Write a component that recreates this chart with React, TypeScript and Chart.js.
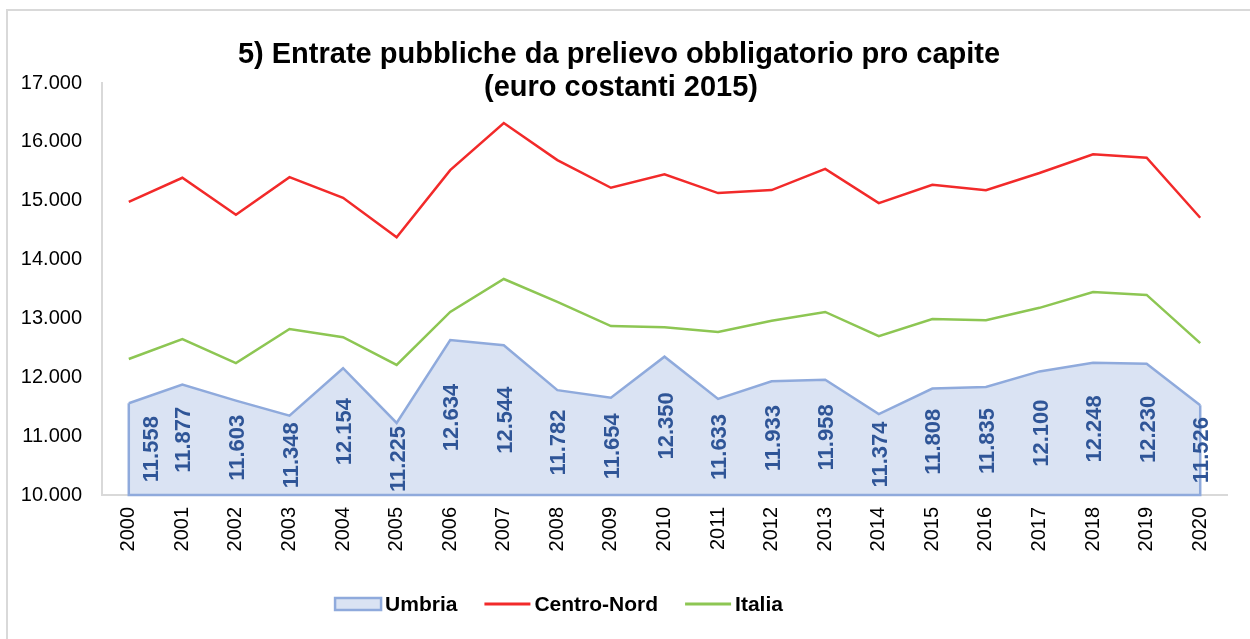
import React, { useEffect, useRef } from "react";
import { Chart, registerables } from "chart.js";

Chart.register(...registerables);

const years = ["2000","2001","2002","2003","2004","2005","2006","2007","2008","2009","2010","2011","2012","2013","2014","2015","2016","2017","2018","2019","2020"];
const umbria = [11558, 11877, 11603, 11348, 12154, 11225, 12634, 12544, 11782, 11654, 12350, 11633, 11933, 11958, 11374, 11808, 11835, 12100, 12248, 12230, 11526];
const centroNord = [14980, 15390, 14760, 15400, 15050, 14380, 15520, 16320, 15690, 15220, 15450, 15130, 15180, 15540, 14960, 15270, 15180, 15470, 15790, 15730, 14710];
const italia = [12310, 12650, 12240, 12820, 12680, 12210, 13110, 13670, 13280, 12870, 12850, 12770, 12960, 13110, 12700, 12990, 12970, 13180, 13450, 13400, 12580];
const titleLines = ["5) Entrate pubbliche da prelievo obbligatorio pro capite", "(euro costanti 2015)"];
const seriesNames = ["Umbria", "Centro-Nord", "Italia"];

const FONT = "'Liberation Sans', Arial, sans-serif";
const UMB_FILL = "#DAE3F3";
const UMB_LINE = "#8FAADC";
const UMB_TEXT = "#2F5597";
const RED = "#F22A2A";
const GREEN = "#8DC653";

const fmt = (v: number) => {
  const s = Math.round(v).toString();
  return s.replace(/\B(?=(\d{3})+(?!\d))/g, ".");
};

const customPlugin = {
  id: "custom",
  beforeDraw(chart: any) {
    const ctx = chart.ctx;
    ctx.save();
    ctx.fillStyle = "#ffffff";
    ctx.fillRect(0, 0, chart.width, chart.height);
    ctx.strokeStyle = "#D9D9D9";
    ctx.lineWidth = 2;
    ctx.beginPath();
    ctx.moveTo(7, chart.height);
    ctx.lineTo(7, 10);
    ctx.lineTo(chart.width, 10);
    ctx.stroke();
    ctx.restore();
  },
  afterDatasetsDraw(chart: any) {
    const ctx = chart.ctx;
    const meta = chart.getDatasetMeta(0);
    const base = chart.scales.y.getPixelForValue(chart.scales.y.min);
    const pts = meta.data;
    ctx.save();
    ctx.strokeStyle = UMB_LINE;
    ctx.lineWidth = 2.5;
    ctx.beginPath();
    ctx.moveTo(pts[0].x, pts[0].y);
    ctx.lineTo(pts[0].x, base);
    ctx.lineTo(pts[pts.length - 1].x, base);
    ctx.lineTo(pts[pts.length - 1].x, pts[pts.length - 1].y);
    ctx.stroke();
    ctx.fillStyle = UMB_TEXT;
    ctx.font = `bold 22px ${FONT}`;
    ctx.textAlign = "center";
    ctx.textBaseline = "middle";
    pts.forEach((p: any, i: number) => {
      const cy = (p.y + base) / 2;
      const cx = i === 0 ? p.x + 23 : p.x + 2;
      ctx.save();
      ctx.translate(cx, cy);
      ctx.rotate(-Math.PI / 2);
      ctx.fillText(fmt(umbria[i]), 0, 0);
      ctx.restore();
    });
    ctx.restore();
  },
  afterDraw(chart: any) {
    const ctx = chart.ctx;
    ctx.save();
    ctx.fillStyle = "#000";
    ctx.font = `bold 29px ${FONT}`;
    ctx.textAlign = "center";
    ctx.textBaseline = "alphabetic";
    ctx.fillText(titleLines[0], 619, 63);
    ctx.fillText(titleLines[1], 621, 96);
    ctx.font = `bold 21px ${FONT}`;
    ctx.textAlign = "left";
    ctx.textBaseline = "middle";
    const sw = 46, gap = 4, between = 27;
    const widths = seriesNames.map((n) => ctx.measureText(n).width);
    const total = widths.reduce((a, w) => a + sw + gap + w, 0) + between * (seriesNames.length - 1);
    let x = 559 - total / 2;
    const ly = 604;
    seriesNames.forEach((n, i) => {
      if (i === 0) {
        ctx.fillStyle = UMB_FILL;
        ctx.fillRect(x, ly - 6, sw, 12);
        ctx.strokeStyle = UMB_LINE;
        ctx.lineWidth = 2.5;
        ctx.strokeRect(x, ly - 6, sw, 12);
      } else {
        ctx.strokeStyle = i === 1 ? RED : GREEN;
        ctx.lineWidth = 3;
        ctx.beginPath();
        ctx.moveTo(x, ly);
        ctx.lineTo(x + sw, ly);
        ctx.stroke();
      }
      ctx.fillStyle = "#000";
      ctx.fillText(n, x + sw + gap, ly + 1);
      x += sw + gap + widths[i] + between;
    });
    ctx.restore();
  },
};

export default function App() {
  const ref = useRef<HTMLCanvasElement>(null);
  useEffect(() => {
    if (!ref.current) return;
    const chart = new Chart(ref.current, {
      type: "line",
      data: {
        labels: years,
        datasets: [
          {
            label: seriesNames[0],
            data: umbria,
            borderColor: UMB_LINE,
            backgroundColor: UMB_FILL,
            borderWidth: 2.5,
            fill: "start",
            pointRadius: 0,
            tension: 0,
            order: 3,
          },
          {
            label: seriesNames[1],
            data: centroNord,
            borderColor: RED,
            borderWidth: 2.5,
            fill: false,
            pointRadius: 0,
            tension: 0,
            order: 1,
          },
          {
            label: seriesNames[2],
            data: italia,
            borderColor: GREEN,
            borderWidth: 2.5,
            fill: false,
            pointRadius: 0,
            tension: 0,
            order: 2,
          },
        ],
      },
      options: {
        responsive: false,
        animation: false,
        layout: { padding: { left: 0, right: 23, top: 83, bottom: 0 } },
        plugins: {
          legend: { display: false },
          title: { display: false },
          tooltip: { enabled: false },
        },
        scales: {
          x: {
            offset: true,
            grid: { display: false, drawTicks: false },
            border: { display: true, color: "#D9D9D9", width: 2 },
            ticks: {
              color: "#000",
              font: { family: FONT, size: 20 },
              minRotation: 90,
              maxRotation: 90,
              padding: 12,
              autoSkip: false,
            },
            afterFit: (s: any) => { s.height = 639 - 495; },
          },
          y: {
            min: 10000,
            max: 17000,
            grid: { display: false, drawTicks: false },
            border: { display: true, color: "#D9D9D9", width: 2 },
            ticks: {
              stepSize: 1000,
              color: "#000",
              font: { family: FONT, size: 20 },
              padding: 20,
              callback: (v: any) => fmt(Number(v)),
            },
            afterFit: (s: any) => { s.width = 102; },
          },
        },
      },
      plugins: [customPlugin],
    });
    return () => chart.destroy();
  }, []);
  return (
    <div style={{ position: "fixed", left: 0, top: 0, width: 1250, height: 639, background: "#fff" }}>
      <canvas ref={ref} width={1250} height={639} style={{ display: "block" }} />
    </div>
  );
}
